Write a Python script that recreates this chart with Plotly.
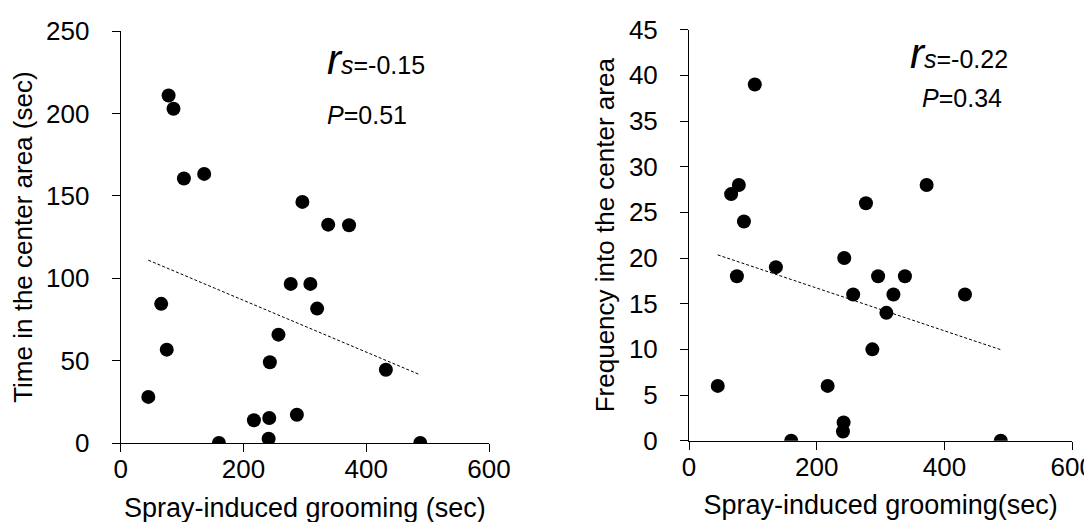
import numpy as np
import plotly.graph_objects as go

# Spray-induced grooming (sec), shared by both panels
grooming = [45, 66, 75, 78, 86, 103, 136, 160, 217, 241, 242, 243, 257, 277, 287, 296, 309, 320, 338, 372, 432, 488]
# Time in the center area (sec)
time_center = [28, 84.5, 56.7, 211, 203, 160.6, 163.4, 0, 13.8, 2.6, 15.2, 49, 65.8, 96.6, 17.2, 146.4, 96.6, 81.6, 132.6, 132.2, 44.5, 0]
# Frequency into the center area
freq_center = [6, 27, 18, 28, 24, 39, 19, 0, 6, 1, 2, 20, 16, 26, 10, 18, 14, 16, 18, 28, 16, 0]

stats_left = ("-0.15", "0.51")
stats_right = ("-0.22", "0.34")

FONT = "Liberation Sans, Arial, sans-serif"
W, H = 1092, 522

fig = go.Figure()


def add_panel(x, y, xa, ya):
    fig.add_trace(go.Scatter(x=x, y=y, mode="markers", xaxis=xa, yaxis=ya,
                             marker=dict(size=14, color="black"), showlegend=False))
    xs = np.array(x, dtype=float)
    ys = np.array(y, dtype=float)
    m, b = np.polyfit(xs, ys, 1)
    lx = np.array([xs.min(), xs.max()])
    fig.add_trace(go.Scatter(x=lx, y=m * lx + b, mode="lines", xaxis=xa, yaxis=ya,
                             line=dict(color="black", width=1, dash="3px,2px"), showlegend=False))


add_panel(grooming, time_center, "x", "y")
add_panel(grooming, freq_center, "x2", "y2")

tickfont = dict(family=FONT, size=26, color="black")
xtitlefont = dict(family=FONT, size=27, color="black")
ytitlefont = dict(family=FONT, size=26, color="black")

common_axis = dict(showgrid=False, zeroline=False, showline=True, linecolor="black", linewidth=1,
                   ticks="outside", ticklen=8, tickwidth=1, tickcolor="black", tickfont=tickfont,
                   automargin=False)

fig.update_layout(
    width=W, height=H,
    margin=dict(l=0, r=0, t=0, b=0),
    paper_bgcolor="white", plot_bgcolor="white",
    xaxis=dict(domain=[112.7 / W, 481 / W], range=[0, 600], tickvals=[0, 200, 400, 600],
               anchor="y", title=dict(text="Spray-induced grooming (sec)", font=xtitlefont, standoff=14),
               ticklabelstandoff=-5, **common_axis),
    yaxis=dict(domain=[1 - 435 / H, 1 - 23.3 / H], range=[0, 250], tickvals=[0, 50, 100, 150, 200, 250],
               anchor="x", title=dict(text="Time in the center area (sec)", font=ytitlefont, standoff=6),
               ticklabelstandoff=17, **common_axis),
    xaxis2=dict(domain=[681 / W, 1064.3 / W], range=[0, 600], tickvals=[0, 200, 400, 600],
                anchor="y2", title=dict(text="Spray-induced grooming(sec)", font=xtitlefont, standoff=14),
                ticklabelstandoff=-5, **common_axis),
    yaxis2=dict(domain=[1 - 432.7 / H, 1 - 21.7 / H], range=[0, 45], tickvals=list(range(0, 46, 5)),
                anchor="x2", title=dict(text="Frequency into the center area", font=ytitlefont, standoff=6),
                ticklabelstandoff=17, **common_axis),
)

ann_font = dict(family=FONT, size=25, color="black")


def rs_text(v):
    return "<span style='font-size:42px'><i>r</i></span><i>s</i>=" + v


def p_text(v):
    return "<i>P</i>=" + v


fig.add_annotation(x=317 / W, y=1 - 51 / H, xref="paper", yref="paper", xanchor="left", yanchor="middle",
                   text=rs_text(stats_left[0]), showarrow=False, font=ann_font)
fig.add_annotation(x=317 / W, y=1 - 107 / H, xref="paper", yref="paper", xanchor="left", yanchor="middle",
                   text=p_text(stats_left[1]), showarrow=False, font=ann_font)
fig.add_annotation(x=900 / W, y=1 - 45 / H, xref="paper", yref="paper", xanchor="left", yanchor="middle",
                   text=rs_text(stats_right[0]), showarrow=False, font=ann_font)
fig.add_annotation(x=912 / W, y=1 - 90 / H, xref="paper", yref="paper", xanchor="left", yanchor="middle",
                   text=p_text(stats_right[1]), showarrow=False, font=ann_font)

fig.write_html("out.html")
